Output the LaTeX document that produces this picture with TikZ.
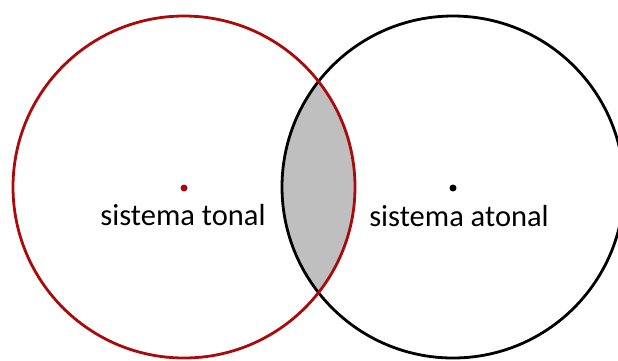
\documentclass[tikz,border=0pt]{standalone}
\usepackage{fontspec}
\setmainfont{Carlito}
\definecolor{tonalred}{RGB}{170,10,10}
\definecolor{lensgray}{RGB}{191,191,191}
\begin{document}
\begin{tikzpicture}[x=1pt,y=-1pt,
  ring/.style={line width=2.8pt},
  centerdot/.style={circle,inner sep=0pt,minimum size=7pt},
  label/.style={font=\fontsize{30.5}{33}\selectfont,inner sep=0pt,anchor=base}]
\useasboundingbox (0,0) rectangle (618,360);
\clip (0,0) rectangle (618,360);
\coordinate (ct) at (184,187);
\coordinate (ca) at (453,187);
\begin{scope}
  \clip (ct) circle (171);
  \fill[lensgray] (ca) circle (171);
\end{scope}
\draw[ring,black] (ca) circle (171);
\draw[ring,tonalred] (ct) circle (171);
\node[centerdot,fill=tonalred] (dt) at (184,188) {};
\node[centerdot,fill=black] (da) at (453,188) {};
\node[label] (lt) at (183,225) {sistema tonal};
\node[label] (la) at (459,226) {sistema atonal};
\end{tikzpicture}
\end{document}
